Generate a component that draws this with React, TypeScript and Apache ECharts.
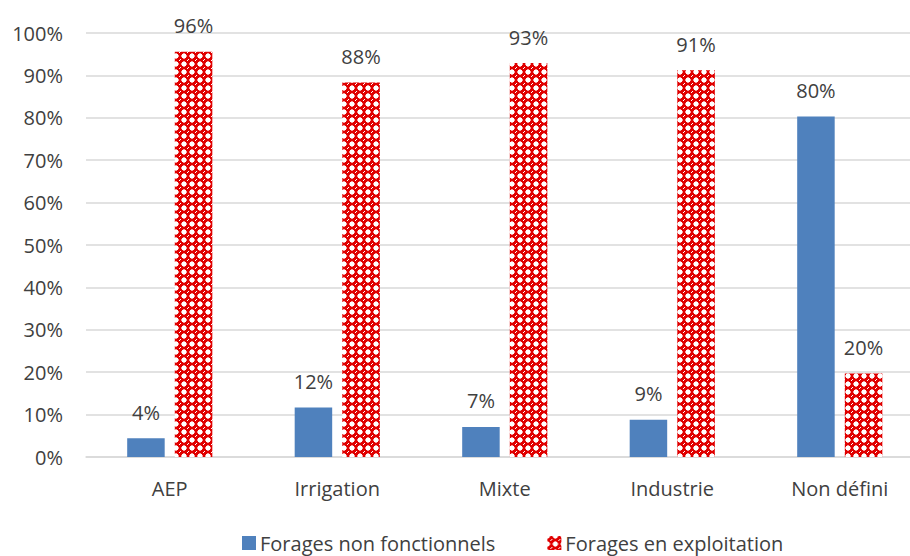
import React, { useEffect, useRef } from "react";
import * as echarts from "echarts";

const categories = ["AEP", "Irrigation", "Mixte", "Industrie", "Non défini"];
const nonFonctionnels = [4.4, 11.7, 7.1, 8.8, 80.3];
const enExploitation = [95.6, 88.3, 92.9, 91.2, 19.7];
const seriesNames = ["Forages non fonctionnels", "Forages en exploitation"];

function makePattern(): HTMLCanvasElement {
  const c = document.createElement("canvas");
  c.width = 8;
  c.height = 8;
  const ctx = c.getContext("2d")!;
  ctx.fillStyle = "#e00000";
  ctx.fillRect(0, 0, 8, 8);
  ctx.fillStyle = "#ffffff";
  ctx.fillRect(0, 0, 2, 2);
  ctx.fillRect(6, 0, 2, 2);
  ctx.fillRect(0, 6, 2, 2);
  ctx.fillRect(6, 6, 2, 2);
  ctx.fillStyle = "#f4a0a0";
  ctx.fillRect(2, 0, 1, 1);
  ctx.fillRect(5, 0, 1, 1);
  ctx.fillRect(0, 2, 1, 1);
  ctx.fillRect(7, 2, 1, 1);
  ctx.fillRect(0, 5, 1, 1);
  ctx.fillRect(7, 5, 1, 1);
  ctx.fillRect(2, 7, 1, 1);
  ctx.fillRect(5, 7, 1, 1);
  ctx.fillStyle = "#ffffff";
  ctx.fillRect(3, 3, 2, 2);
  ctx.fillStyle = "#e00000";
  ctx.fillRect(3, 3, 1, 1);
  ctx.fillRect(4, 4, 1, 1);
  return c;
}

export default function App() {
  const ref = useRef<HTMLDivElement>(null);
  useEffect(() => {
    if (!ref.current) return;
    const chart = echarts.init(ref.current, undefined, { renderer: "svg" });
    const pattern = makePattern();
    const font = "'Open Sans', sans-serif";
    const labelCfg = {
      show: true,
      position: "top" as const,
      distance: 16,
      fontSize: 20,
      color: "#404040",
      fontFamily: font,
      formatter: (p: any) => Math.round(p.value) + "%",
    };
    chart.setOption({
      animation: false,
      grid: { left: 86, width: 837.5, top: 33, bottom: 99, containLabel: false },
      legend: {
        left: 242,
        top: 533,
        padding: 0,
        itemWidth: 14,
        itemHeight: 14,
        itemGap: 52,
        icon: "rect",
        textStyle: { fontSize: 20, color: "#404040", fontFamily: font, padding: [0, 0, 0, -1] },
        data: seriesNames,
      },
      xAxis: {
        type: "category",
        data: categories,
        axisLine: { lineStyle: { color: "#d9d9d9", width: 1.5 } },
        axisTick: { show: false },
        axisLabel: { fontSize: 20, color: "#404040", fontFamily: font, margin: 21 },
      },
      yAxis: {
        type: "value",
        min: 0,
        max: 100,
        interval: 10,
        axisLabel: {
          fontSize: 20,
          color: "#404040",
          fontFamily: font,
          margin: 23,
          formatter: (v: number) => v + "%",
        },
        splitLine: { lineStyle: { color: "#d9d9d9", width: 1.5 } },
        axisLine: { show: false },
        axisTick: { show: false },
      },
      series: [
        {
          name: seriesNames[0],
          type: "bar",
          data: nonFonctionnels,
          barWidth: 37.5,
          barGap: "27%",
          itemStyle: { color: "#4f81bd" },
          label: labelCfg,
        },
        {
          name: seriesNames[1],
          type: "bar",
          data: enExploitation,
          barWidth: 37.5,
          barGap: "27%",
          itemStyle: { color: { image: pattern, repeat: "repeat" } as any },
          label: labelCfg,
        },
      ],
    });
    return () => chart.dispose();
  }, []);
  return (
    <div style={{ position: "absolute", left: 0, top: 0, width: 910, height: 556, overflow: "hidden" }}>
      <div ref={ref} style={{ width: 940, height: 556 }} />
    </div>
  );
}
